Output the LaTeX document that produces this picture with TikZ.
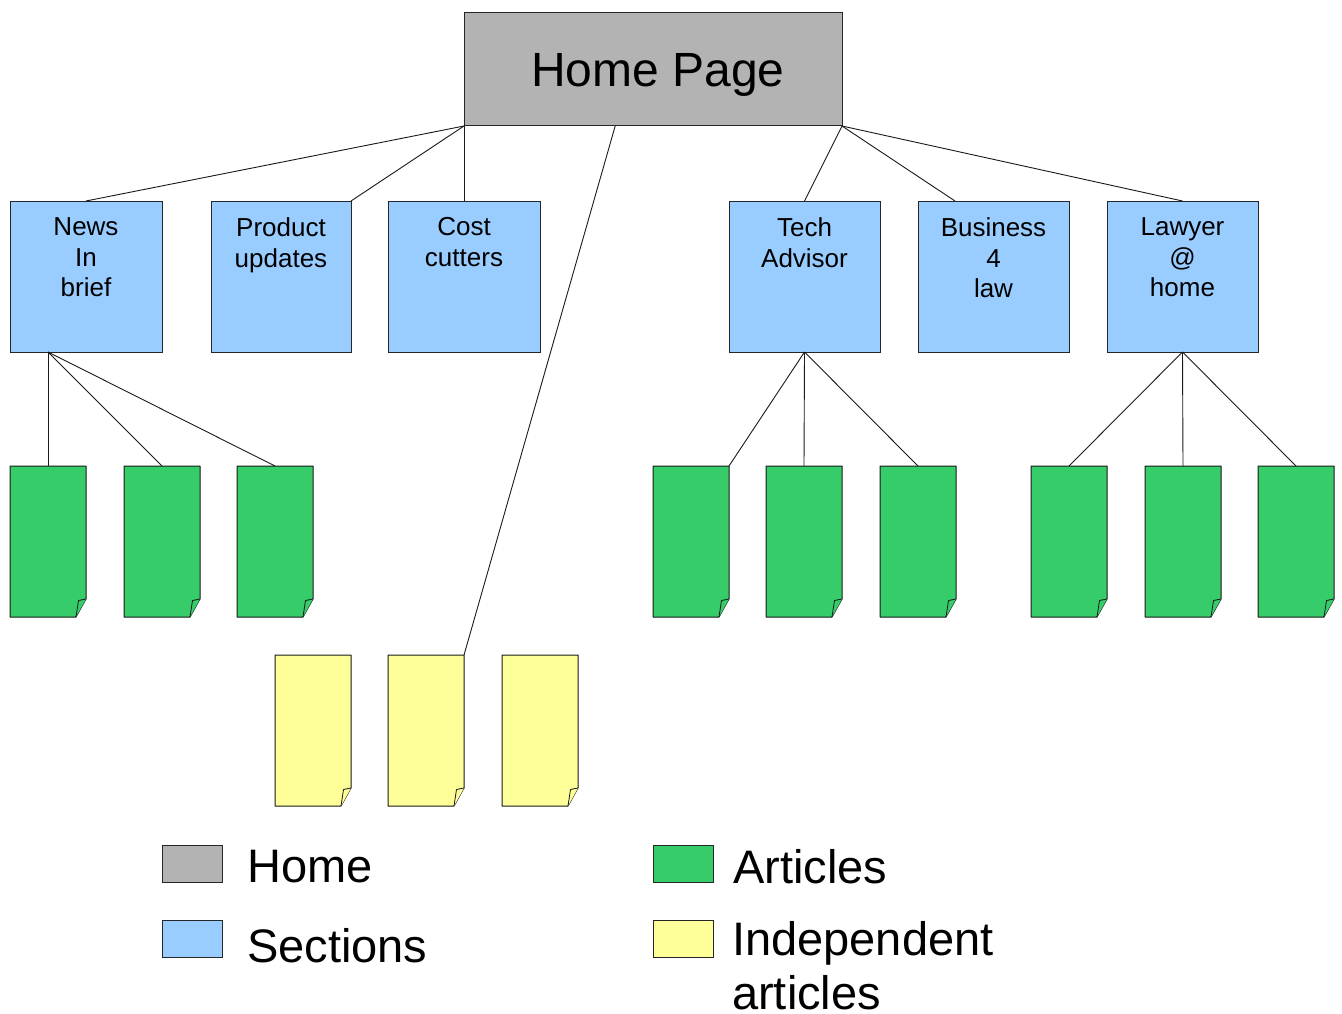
\documentclass[tikz,border=0pt]{standalone}
\usepackage{fontspec}
\setmainfont{Liberation Sans}
\usetikzlibrary{calc}
\definecolor{homegray}{HTML}{B3B3B3}
\definecolor{secblue}{HTML}{99CCFF}
\definecolor{artgreen}{HTML}{35CC69}
\definecolor{indyellow}{HTML}{FFFF99}
\newcommand{\docpage}[4]{%
  \node[pagebox] (#1) at (#2+38,#3+75.5) {};
  \filldraw[fill=#4, draw=black!90, line width=1pt, line join=round]
    (#1.north west) -- (#1.north east) -- ([yshift=18pt]#1.south east)
    -- ([xshift=-10pt]#1.south east) -- (#1.south west) -- cycle;
  \filldraw[fill=#4, draw=black!90, line width=0.8pt, line join=round]
    ([xshift=-10pt]#1.south east) -- ([xshift=-7.5pt,yshift=16.5pt]#1.south east)
    -- ([yshift=18pt]#1.south east);
}
\begin{document}
\begin{tikzpicture}[x=1pt,y=-1pt,
  box/.style={draw=black!85, line width=1pt, inner sep=0pt, outer sep=0pt},
  secbox/.style={box, fill=secblue, minimum height=151},
  sectext/.style={anchor=north, inner sep=0pt, align=center, font=\fontsize{26}{30.5}\selectfont},
  pagebox/.style={draw=none, inner sep=0pt, outer sep=0pt, minimum width=76, minimum height=151},
  conn/.style={draw=black!90, line width=0.9pt},
  legbox/.style={box, minimum width=60, minimum height=37},
  legtext/.style={inner sep=0pt, font=\fontsize{47}{54}\selectfont}
]
\useasboundingbox (0,0) rectangle (1342,1014);

% home
\node[box, fill=homegray, minimum width=378, minimum height=113] (home) at (653,69.5) {};
\node[anchor=base, inner sep=0pt, font=\fontsize{48}{56}\selectfont] (homet) at (658,87) {Home Page};

% sections
\node[secbox, minimum width=152] (news) at (86,276.5) {};
\node[secbox, minimum width=140] (prod) at (281,276.5) {};
\node[secbox, minimum width=152] (cost) at (464,276.5) {};
\node[secbox, minimum width=151] (tech) at (804.5,276.5) {};
\node[secbox, minimum width=151] (bus) at (993.5,276.5) {};
\node[secbox, minimum width=151] (law) at (1182.5,276.5) {};

\node[sectext] (newst) at ([yshift=-16.5pt]news.north) {News\\In\\brief};
\node[sectext] (prodt) at ([yshift=-16.5pt]prod.north) {Product\\updates};
\node[sectext] (costt) at ([yshift=-16.5pt]cost.north) {Cost\\cutters};
\node[sectext] (techt) at ([yshift=-16.5pt]tech.north) {Tech\\Advisor};
\node[sectext] (bust) at ([yshift=-16.5pt]bus.north) {Business\\4\\law};
\node[sectext] (lawt) at ([yshift=-16.5pt]law.north) {Lawyer\\@\\home};

% article pages
\docpage{g1}{10}{466}{artgreen}
\docpage{g2}{124}{466}{artgreen}
\docpage{g3}{237}{466}{artgreen}
\docpage{g4}{653}{466}{artgreen}
\docpage{g5}{766}{466}{artgreen}
\docpage{g6}{880}{466}{artgreen}
\docpage{g7}{1031}{466}{artgreen}
\docpage{g8}{1145}{466}{artgreen}
\docpage{g9}{1258}{466}{artgreen}
% independent pages
\docpage{y1}{275}{655}{indyellow}
\docpage{y2}{388}{655}{indyellow}
\docpage{y3}{502}{655}{indyellow}

% connectors from home
\coordinate (hmid) at ($(home.south west)!0.4!(home.south east)$);
\coordinate (busin) at ($(bus.north west)!0.245!(bus.north east)$);
\coordinate (newsout) at ($(news.south west)!0.25!(news.south east)$);
\draw[conn] (home.south west) -- (news.north);
\draw[conn] (home.south west) -- (prod.north east);
\draw[conn] (home.south west) -- (cost.north);
\draw[conn] (hmid) -- (y2.north east);
\draw[conn] (home.south east) -- (tech.north);
\draw[conn] (home.south east) -- (busin);
\draw[conn] (home.south east) -- (law.north);

% connectors to articles
\draw[conn] (newsout) -- (g1.north);
\draw[conn] (newsout) -- (g2.north);
\draw[conn] (newsout) -- (g3.north);
\draw[conn] (tech.south) -- (g4.north east);
\draw[conn] (tech.south) -- (g5.north);
\draw[conn] (tech.south) -- (g6.north);
\draw[conn] (law.south) -- (g7.north);
\draw[conn] (law.south) -- (g8.north);
\draw[conn] (law.south) -- (g9.north);

% legend
\node[legbox, fill=homegray] (lhome) at (192,863.5) {};
\node[legbox, fill=secblue] (lsec) at (192,938.5) {};
\node[legbox, fill=artgreen] (lart) at (683,863.5) {};
\node[legbox, fill=indyellow] (lind) at (683,938.5) {};
\node[legtext, anchor=base west] (lhomet) at (247,882) {Home};
\node[legtext, anchor=base west] (lsect) at (247,962) {Sections};
\node[legtext, anchor=base west] (lartt) at (733,883) {Articles};
\node[legtext, anchor=north west, align=left] (lindt) at (732,921) {Independent\\articles};
\end{tikzpicture}
\end{document}
